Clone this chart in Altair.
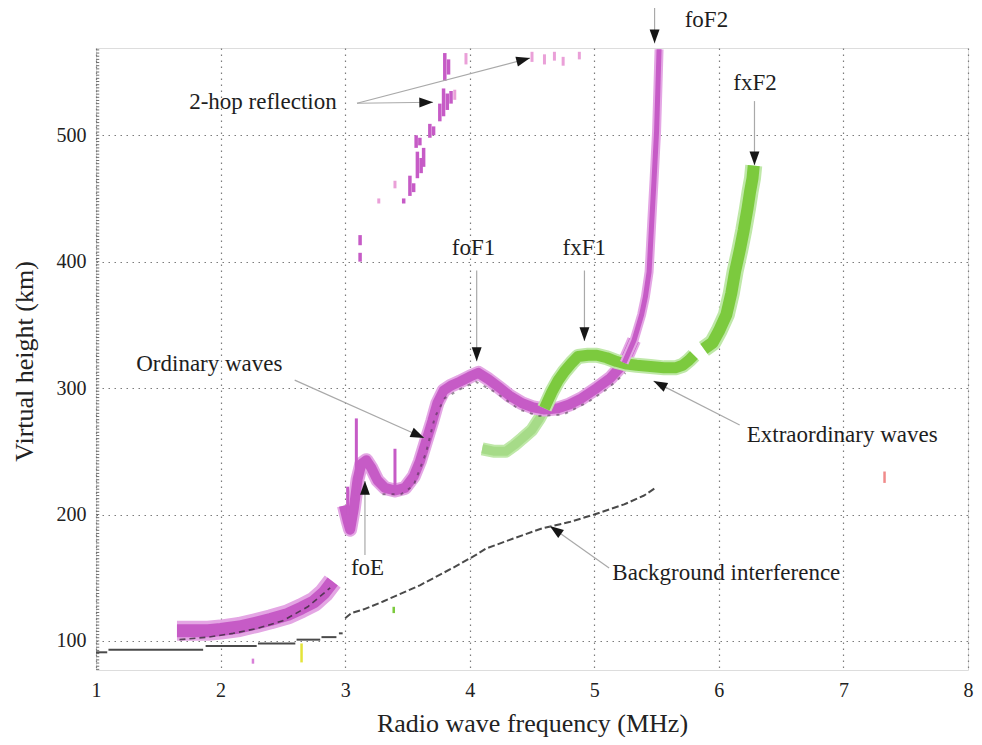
import math
import altair as alt
import pandas as pd

FONT = "Liberation Serif"
X_DOMAIN = [1, 8]
Y_DOMAIN = [77, 569]
W, H = 872, 622

x_ticks = [1, 2, 3, 4, 5, 6, 7, 8]
y_ticks = [100, 200, 300, 400, 500]

# ---- Ordinary (O) wave trace -------------------------------------------
o_low_f = [1.65, 1.75, 1.9, 2.0, 2.15, 2.28, 2.4, 2.54, 2.65, 2.75, 2.83, 2.9]
o_low_h = [108, 108, 108, 109, 111, 114, 117, 121, 126, 131, 138, 147]

o_f = [2.99, 3.02, 3.04, 3.07, 3.1, 3.13, 3.17, 3.21, 3.26, 3.32, 3.4, 3.48,
       3.55, 3.6, 3.65, 3.7, 3.74, 3.79, 3.85, 3.92, 4.0, 4.07, 4.15, 4.23,
       4.32, 4.42, 4.5, 4.6, 4.71, 4.8, 4.9, 5.02, 5.13, 5.24, 5.32]
o_h = [207, 195, 188, 205, 228, 240, 243, 237, 227, 221, 219, 221,
       230, 242, 258, 274, 288, 298, 302, 305, 309, 312, 307, 301,
       294, 288, 285, 283, 284, 287, 292, 300, 308, 320, 338]

o_f2_f = [5.24, 5.32, 5.38, 5.41, 5.44, 5.46, 5.48, 5.5, 5.51, 5.52]
o_f2_h = [320, 338, 358, 372, 392, 429, 465, 503, 535, 568]

o_spike_f = [3.09, 3.40, 3.02]
o_spike_lo = [215, 222, 200]
o_spike_hi = [276, 252, 222]

o_dark_low_f = [1.67, 1.9, 2.1, 2.3, 2.5, 2.7, 2.88]
o_dark_low_h = [101, 103, 106, 110, 116, 127, 142]
o_dark_f = [3.3, 3.45, 3.55, 3.65, 3.72, 3.8, 3.92, 4.05, 4.2, 4.4, 4.55,
            4.75, 4.95, 5.1, 5.25]
o_dark_h = [216, 216, 223, 249, 277, 292, 299, 305, 297, 283, 278,
            279, 289, 299, 312]

# ---- Extraordinary (X) wave trace --------------------------------------
x_lo_f = [4.1, 4.2, 4.29, 4.36, 4.42, 4.5, 4.56, 4.62]
x_lo_h = [252, 250, 250, 255, 260, 267, 276, 287]
x_mid_f = [4.6, 4.66, 4.71, 4.76, 4.82, 4.87, 4.95, 5.02, 5.1, 5.18, 5.26,
           5.34, 5.45, 5.56, 5.65, 5.71, 5.76, 5.8]
x_mid_h = [284, 297, 306, 313, 320, 325, 326, 326, 324, 321, 319,
           318, 317, 316, 316, 318, 322, 326]
x_f2_f = [5.88, 5.95, 6.0, 6.06, 6.1, 6.13, 6.17, 6.2, 6.23, 6.25, 6.27, 6.28]
x_f2_h = [331, 336, 345, 358, 375, 392, 410, 425, 442, 455, 466, 476]

# ---- 2-hop reflection echoes (freq, low, high) -------------------------
hop_f = [3.12, 3.12, 3.47, 3.52, 3.55, 3.58, 3.61, 3.63, 3.57, 3.6, 3.68,
         3.71, 3.76, 3.79, 3.82, 3.85, 3.8, 3.83]
hop_lo = [413, 400, 446, 452, 455, 466, 470, 475, 490, 492, 498,
          500, 511, 515, 520, 525, 543, 548]
hop_hi = [421, 407, 450, 468, 462, 487, 482, 490, 500, 498, 509,
          507, 525, 537, 533, 535, 565, 560]
hop_pale_f = [3.27, 3.40, 3.88, 3.97, 4.5, 4.6, 4.68, 4.75, 4.88]
hop_pale_lo = [446, 458, 528, 556, 558, 556, 559, 555, 560]
hop_pale_hi = [450, 464, 536, 565, 566, 564, 566, 562, 566]

# ---- Background interference -------------------------------------------
bg_step_f1 = [1.0, 1.1, 1.88, 2.3, 2.61, 2.81, 2.95]
bg_step_f2 = [1.09, 1.86, 2.29, 2.6, 2.8, 2.93, 2.98]
bg_step_h = [91, 93, 96, 98, 101, 103, 106]
bg_rise_f = [3.0, 3.05, 3.15, 3.3, 3.6, 3.85, 4.05, 4.13, 4.35, 4.58, 4.8,
             5.0, 5.24, 5.4, 5.49]
bg_rise_h = [118, 122, 125, 131, 144, 157, 168, 173, 181, 189, 194,
             200, 208, 215, 221]

# ---- stray echoes -------------------------------------------------------
green_dot = (3.39, 122, 127)
yellow_dot = (2.65, 83, 98)
pink_dot = (2.26, 82, 86)
red_dot = (7.33, 225, 234)

# ---- annotations ---------------------------------------------------------
ann_text = ["2-hop reflection", "foF2", "fxF2", "foF1", "fxF1",
            "Ordinary waves", "Extraordinary waves", "foE",
            "Background interference"]
ann_tf = [2.34, 5.90, 6.29, 4.03, 4.92, 1.91, 6.99, 3.18, 6.06]
ann_th = [526, 591, 541, 411, 411, 319, 263, 158, 154]

arr_f1 = [3.095, 3.095, 5.484, 6.286, 4.056, 4.921, 2.595, 6.167, 3.159, 5.119]
arr_h1 = [525.3, 525.3, 605, 527, 393, 393, 306.3, 270.8, 168, 157.7]
arr_f2 = [3.706, 4.484, 5.484, 6.286, 4.056, 4.921, 3.635, 5.476, 3.159, 4.643]
arr_h2 = [526.1, 561.0, 572.7, 476.3, 321.3, 337.2, 260.5, 305.5, 226.5, 190.9]

ruler_h = [77.5 + 2.5 * k for k in range(197)]


def df(**cols):
    d = pd.DataFrame(cols)
    d["i"] = range(len(d))
    return d


xs = alt.Scale(domain=X_DOMAIN, nice=False, zero=False)
ys = alt.Scale(domain=Y_DOMAIN, nice=False, zero=False)

axis_common = dict(
    grid=True, gridDash=[1.5, 4.5], gridColor="#7c7c7c", gridWidth=1.2,
    ticks=False, domain=False, labelFont=FONT, labelFontSize=20,
    labelColor="#222222", titleFont=FONT,
    titleFontWeight="normal", titleColor="#222222", format="d",
)
x_axis = alt.Axis(
    values=x_ticks, title="Radio wave frequency (MHz)", labelPadding=10,
    labelFlush=False, titleFontSize=26, titleY=61,
    titleBaseline="alphabetic", **axis_common)
y_axis = alt.Axis(
    values=y_ticks, title="Virtual height (km)", labelPadding=10,
    titleFontSize=26, titleX=-72, titleY=H / 2 + 2, titleAngle=270,
    titleAlign="center", titleBaseline="middle", **axis_common)


def X(field):
    return alt.X(f"{field}:Q", scale=xs, axis=x_axis)


def Y(field):
    return alt.Y(f"{field}:Q", scale=ys, axis=y_axis)


def trace(f, h, color, width, opacity=1.0, dash=None, cap="butt"):
    kw = dict(color=color, strokeWidth=width, opacity=opacity,
              strokeCap=cap, strokeJoin="round")
    if dash:
        kw["strokeDash"] = dash
    return alt.Chart(df(f=f, h=h)).mark_line(**kw).encode(
        x=X("f"), y=Y("h"), order="i:Q")


def vrules(f, lo, hi, color, width=3, opacity=1.0):
    return alt.Chart(df(f=f, lo=lo, hi=hi)).mark_rule(
        color=color, strokeWidth=width, opacity=opacity).encode(
        x=X("f"), y=Y("lo"), y2="hi:Q")


base = alt.Chart(df(f=X_DOMAIN, h=Y_DOMAIN)).mark_point(opacity=0).encode(
    x=X("f"), y=Y("h"))

ruler = alt.Chart(df(h=ruler_h)).mark_rule(color="#6f6f6f", strokeWidth=1).encode(
    x=alt.datum(1.0, scale=xs), x2=alt.datum(1.026), y=Y("h"))

bg_steps = alt.Chart(df(f1=bg_step_f1, f2=bg_step_f2, h=bg_step_h)).mark_rule(
    color="#4a4a4a", strokeWidth=2).encode(x=X("f1"), x2="f2:Q", y=Y("h"))
bg_rise = trace(bg_rise_f, bg_rise_h, "#4a4a4a", 2, dash=[7, 3])

MAG = "#c65bc6"
MAG_HALO = "#e4a6e4"
GRN = "#7cca3e"
GRN_LIGHT = "#a6db88"
GRN_HALO = "#bfe8a8"

layers = [
    base, ruler, bg_steps, bg_rise,
    # O-wave lower part
    trace(o_low_f, o_low_h, MAG_HALO, 20),
    trace(o_low_f, o_low_h, MAG, 13),
    trace(o_dark_low_f, o_dark_low_h, "#3a2a3a", 1.6, opacity=0.8, dash=[6, 4]),
    # X-wave
    trace(x_lo_f, x_lo_h, GRN_HALO, 13),
    trace(x_lo_f, x_lo_h, GRN_LIGHT, 9),
    # O-wave E/F1
    trace(o_f, o_h, MAG_HALO, 14),
    trace(o_f, o_h, MAG, 10),
    vrules(o_spike_f, o_spike_lo, o_spike_hi, MAG, 3),
    trace(o_dark_f, o_dark_h, "#3a2a3a", 2, opacity=0.5, dash=[3, 6]),
    # X-wave middle and F2
    trace(x_mid_f, x_mid_h, GRN_HALO, 15),
    trace(x_mid_f, x_mid_h, GRN, 11),
    trace(x_f2_f, x_f2_h, GRN_HALO, 17),
    trace(x_f2_f, x_f2_h, GRN, 12),
    # O-wave F2 cusp
    trace(o_f2_f, o_f2_h, MAG_HALO, 9),
    trace(o_f2_f, o_f2_h, MAG, 5),
    # 2-hop reflection
    vrules(hop_f, hop_lo, hop_hi, MAG, 3.5),
    vrules(hop_pale_f, hop_pale_lo, hop_pale_hi, "#eaa0d8", 3),
    # stray echoes
    vrules([green_dot[0]], [green_dot[1]], [green_dot[2]], GRN, 2.5),
    vrules([yellow_dot[0]], [yellow_dot[1]], [yellow_dot[2]], "#e4e43a", 2.5),
    vrules([pink_dot[0]], [pink_dot[1]], [pink_dot[2]], "#d880d8", 2.5),
    vrules([red_dot[0]], [red_dot[1]], [red_dot[2]], "#f08a8a", 2.5),
]

# arrows
px_per_f = W / (X_DOMAIN[1] - X_DOMAIN[0])
px_per_h = H / (Y_DOMAIN[1] - Y_DOMAIN[0])
ang = []
for a, b, c, d in zip(arr_f1, arr_h1, arr_f2, arr_h2):
    dx = (c - a) * px_per_f
    dy = -(d - b) * px_per_h
    ang.append(math.degrees(math.atan2(dx, -dy)) % 360)
arrows = df(f1=arr_f1, h1=arr_h1, f2=arr_f2, h2=arr_h2, ang=ang)

arrow_lines = alt.Chart(arrows).mark_rule(color="#a9a9a9", strokeWidth=1.2).encode(
    x=X("f1"), y=Y("h1"), x2="f2:Q", y2="h2:Q")
arrow_heads = alt.Chart(arrows).mark_point(
    shape="M0,0L-0.36,1L0.36,1Z", filled=True, color="#161616", size=760,
    opacity=1, strokeWidth=0).encode(
    x=X("f2"), y=Y("h2"), angle=alt.Angle("ang:Q", scale=None))

labels = alt.Chart(df(t=ann_text, f=ann_tf, h=ann_th)).mark_text(
    font=FONT, fontSize=23, color="#1e1e1e", align="center",
    baseline="middle").encode(x=X("f"), y=Y("h"), text="t:N")

layers += [arrow_lines, arrow_heads, labels]

chart = alt.layer(*layers).properties(
    width=W, height=H,
    autosize=alt.AutoSizeParams(type="none"),
    padding={"left": 88, "top": 40, "right": 6, "bottom": 67},
).configure_view(stroke="#7d8782", strokeWidth=2.2).configure(background="white")

chart.save("out.html", embed_options={"renderer": "svg", "actions": False})
